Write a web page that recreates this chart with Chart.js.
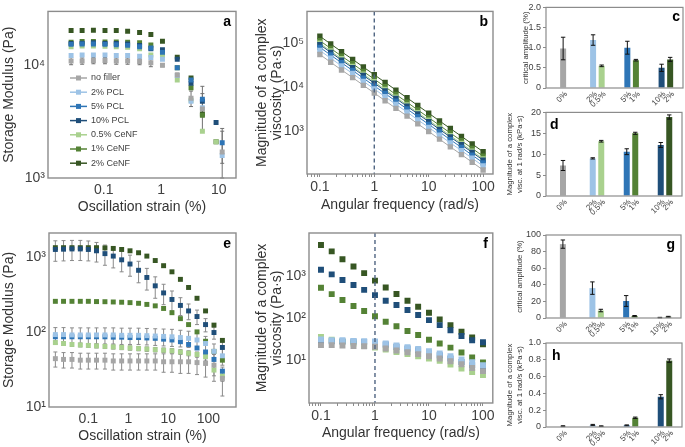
<!DOCTYPE html>
<html>
<head>
<meta charset="utf-8">
<script src="https://cdn.jsdelivr.net/npm/chart.js@4.4.1/dist/chart.umd.min.js"></script>
<style>
  body { margin: 0; background: #fff; width: 685px; height: 447px; position: relative; overflow: hidden; }
  canvas { position: absolute; }
</style>
</head>
<body>
<canvas id="ca" width="240" height="220" style="left:0;top:0"></canvas>
<canvas id="cb" width="252" height="220" style="left:245px;top:0"></canvas>
<canvas id="cc" width="185" height="110" style="left:500px;top:0"></canvas>
<canvas id="cd" width="185" height="115" style="left:500px;top:105px"></canvas>
<canvas id="ce" width="240" height="227" style="left:0;top:220px"></canvas>
<canvas id="cf" width="252" height="227" style="left:245px;top:220px"></canvas>
<canvas id="cg" width="185" height="112" style="left:500px;top:225px"></canvas>
<canvas id="ch" width="185" height="112" style="left:500px;top:335px"></canvas>
<script>
const seriesNames = ['no filler', '2% PCL', '5% PCL', '10% PCL', '0.5% CeNF', '1% CeNF', '2% CeNF'];
const seriesColors = ['#a6a6a6', '#9dc3e6', '#2e75b6', '#1f4e79', '#a9d18e', '#548235', '#375623'];

// a - strain sweep (Pa), series in the order of seriesNames
const strainA = [0.027, 0.042, 0.066, 0.105, 0.165, 0.26, 0.42, 0.66, 1.05, 1.9, 3.3, 5.2, 9, 11.5];
const modulusA = [
  [10900, 10900, 11000, 11000, 10900, 10900, 10800, 10500, 10000, 8200, 5100, 4100, null, 1700],
  [12200, 12300, 12300, 12300, 12200, 12200, 12000, 11700, 11300, 8100, 4800, 4200, null, 1580],
  [15300, 15400, 15400, 15300, 15200, 15000, 14600, 14200, 13000, 9500, 7400, 5000, null, 2050],
  [15600, 15700, 15800, 15600, 15600, 15400, 15000, 14000, 13700, 11300, 6900, 4800, 3100, null],
  [14600, 14800, 14800, 14700, 14600, 14400, 14000, 12300, 12200, 7400, 4900, 2600, 2100, null],
  [16000, 16200, 16200, 16100, 16100, 16000, 15800, 15100, 12800, 9500, 6300, 3600, null, null],
  [20300, 20300, 20400, 20300, 20300, 20000, 19500, 18700, 16300, 11800, 7700, 3700, 2100, null]
];
const modulusAErr = [
  [800, 700, 700, 700, 700, 700, 700, 800, 300, 300, 800, 1500, null, 900],
  null,
  [null, null, null, null, null, null, null, null, null, null, 500, 1500, null, 700],
  null, null, null, null
];

// b - frequency sweep (Pa·s)
const freq = [0.1, 0.158, 0.25, 0.4, 0.63, 1, 1.58, 2.5, 4, 6.3, 10, 15.8, 25, 40, 63, 100];
const viscB = [
  [54100, 36200, 24200, 16300, 10900, 7300, 4890, 3280, 2200, 1470, 986, 661, 442, 296, 199, 133],
  [66700, 44600, 29900, 20100, 13400, 9000, 6030, 4040, 2710, 1810, 1220, 815, 545, 365, 245, 164],
  [78500, 52600, 35200, 23600, 15800, 10600, 7100, 4760, 3190, 2140, 1430, 959, 642, 430, 288, 193],
  [90400, 60500, 40500, 27200, 18200, 12200, 8170, 5480, 3670, 2460, 1650, 1100, 739, 495, 332, 222],
  [97100, 65000, 43500, 29200, 19500, 13100, 8780, 5880, 3940, 2640, 1770, 1190, 794, 532, 356, 238],
  [111000, 74400, 49800, 33500, 22400, 15000, 10100, 6740, 4520, 3020, 2030, 1360, 909, 609, 408, 273],
  [140000, 93700, 62700, 42100, 28200, 18900, 12700, 8490, 5690, 3810, 2550, 1710, 1150, 767, 514, 344]
];

// e - strain sweep, second sample (Pa)
const strainE = [0.015, 0.024, 0.039, 0.063, 0.1, 0.16, 0.26, 0.42, 0.68, 1.1, 1.8, 2.9, 4.7, 7.6, 12.3, 20, 32, 52, 85, 138, 224];
const modulusE = [
  [44, 43, 43, 42, 42, 42, 42, 41, 41, 41, 41, 41, 41, 40, 40, 40, 40, 39, 38, 36, 24],
  [92, 92, 91, 91, 91, 91, 91, 91, 90, 90, 90, 89, 88, 87, 86, 84, 82, 78, 70, 55, 48],
  [86, 86, 86, 86, 86, 86, 86, 85, 85, 84, 84, 83, 82, 80, 78, 74, 68, 61, 54, 43, 30],
  [1250, 1260, 1270, 1270, 1250, 1200, 1100, 1020, 910, 800, 660, 530, 410, 330, 270, 225, 190, 160, 125, 98, 62],
  [72, 70, 68, 67, 66, 65, 64, 63, 62, 61, 60, 59, 58, 57, 56, 54, 52, 50, 47, 31, 26],
  [255, 255, 255, 255, 255, 253, 252, 250, 248, 245, 240, 232, 222, 205, 180, 150, 125, 100, 75, 55, 42],
  [1320, 1320, 1320, 1320, 1320, 1320, 1310, 1290, 1250, 1200, 1130, 1020, 890, 760, 630, 500, 390, 280, 190, 123, 77]
];
const modulusEErr = [
  [10, 10, 10, 10, 10, 10, 10, 10, 10, 10, 10, 10, 10, 11, 11, 12, 12, 12, 13, 14, 10],
  [22, 22, 22, 22, 22, 22, 22, 22, 22, 22, 22, 22, 22, 22, 22, 21, 20, 19, 17, 14, 12],
  null,
  [380, 380, 380, 380, 370, 350, 330, 310, 280, 250, 210, 170, 130, 100, 80, 60, 45, 35, 25, 18, 12],
  [4, 4, 4, 4, 4, 4, 4, 4, 4, 4, 4, 4, 4, 4, 4, 4, 4, 4, 5, 5, 4],
  null, null
];

// f - frequency sweep, second sample (Pa·s)
const viscF = [
  [23, 23, 22.5, 22, 21.5, 21, 19, 17, 15.5, 14, 12.5, 11, 9.5, 8, 6.5, 5.5],
  [31.5, 30, 30, 29, 28.5, 28, 25, 22.5, 20.5, 18.5, 16.5, 14.5, 12.5, 10.5, 9, 7.6],
  [29, 28.5, 28, 28, 27.5, 27.5, 23.7, 21, 19, 17.4, 15, 13.2, 11, 9.1, 7.6, 6.1],
  [1450, 1130, 830, 630, 480, 360, 265, 210, 158, 120, 91, 69, 52, 38, 30, 27],
  [36, 31, 28, 25, 22, 20, 18, 15.8, 14, 12.4, 11, 9.7, 7.9, 6.3, 5.2, 4.4],
  [540, 380, 275, 197, 150, 113, 83, 65, 50, 40, 31, 25, 20, 15.3, 11.6, 8.8],
  [5700, 4000, 2600, 1740, 1210, 800, 550, 383, 265, 190, 137, 94, 69, 48, 35, 24]
];

// bar panels: group 0 = no filler, then PCL bar next to CeNF bar
const barGroups = ['0%', '2% / 0.5%', '5% / 1%', '10% / 2%'];
const pclLabels = ['0%', '2%', '5%', '10%'];
const cenfLabels = [null, '0.5%', '1%', '2%'];
const pclSeries = [0, 1, 2, 3];
const cenfSeries = [null, 4, 5, 6];

const critAmpC = [0.98, 1.19, 1.0, 0.5];
const critAmpCErr = [0.28, 0.13, 0.16, 0.09];
const critAmpCenfC = [null, 0.55, 0.69, 0.71];
const critAmpCenfCErr = [null, 0.02, 0.02, 0.05];

const viscD = [7.3, 9.0, 10.6, 12.2];
const viscDErr = [1.2, 0.15, 0.7, 0.6];
const viscCenfD = [null, 13.1, 15.0, 18.9];
const viscCenfDErr = [null, 0.2, 0.25, 0.5];

const critAmpG = [89, 36, 20.5, 0.5];
const critAmpGErr = [5, 7.5, 6.5, 0.3];
const critAmpCenfG = [null, 9, 2.5, 1.5];
const critAmpCenfGErr = [null, 1.5, 0.5, 0.5];

const viscH = [0.01, 0.025, 0.02, 0.36];
const viscHErr = [0.005, 0.006, 0.005, 0.025];
const viscCenfH = [null, 0.01, 0.11, 0.79];
const viscCenfHErr = [null, 0.004, 0.008, 0.02];

const FONT = '"Liberation Sans", Arial, sans-serif';
const TEXT = '#404040';
const sup = ['\u2070', '\u00b9', '\u00b2', '\u00b3', '\u2074', '\u2075'];

// ---------- small plugins ----------
Chart.register({
  id: 'frame',
  afterDraw(chart, args, o) {
    const { ctx, chartArea: a } = chart;
    ctx.save();
    ctx.strokeStyle = '#8c8c8c';
    ctx.lineWidth = o.width || 1.4;
    ctx.strokeRect(a.left, a.top, a.right - a.left, a.bottom - a.top);
    if (o.letter) {
      ctx.font = 'bold ' + (o.size || 14) + 'px ' + FONT;
      ctx.fillStyle = '#000';
      ctx.textBaseline = 'alphabetic';
      ctx.textAlign = o.side === 'left' ? 'left' : 'right';
      const x = o.side === 'left' ? a.left + (o.inset || 5) : a.right - (o.inset || 5);
      ctx.fillText(o.letter, x, a.top + (o.drop || 15));
    }
    ctx.restore();
  }
});

function drawErrors(chart, o) {
  const { ctx } = chart;
  const ys = chart.scales.y;
  ctx.save();
  ctx.strokeStyle = o.color || '#222';
  ctx.lineWidth = o.width || 1;
  chart.data.datasets.forEach((ds, i) => {
    if (!ds.errors) return;
    chart.getDatasetMeta(i).data.forEach((el, j) => {
      const raw = ds.data[j];
      const v = raw !== null && typeof raw === 'object' ? raw.y : raw;
      const e = ds.errors[j];
      if (v == null || e == null) return;
      const lo = Math.max(v - e, ys.min);
      const y1 = ys.getPixelForValue(v + e), y2 = ys.getPixelForValue(lo);
      const c = o.cap || 2;
      ctx.beginPath();
      ctx.moveTo(el.x, y1); ctx.lineTo(el.x, y2);
      ctx.moveTo(el.x - c, y1); ctx.lineTo(el.x + c, y1);
      ctx.moveTo(el.x - c, y2); ctx.lineTo(el.x + c, y2);
      ctx.stroke();
    });
  });
  ctx.restore();
}

Chart.register({
  id: 'errorBars',
  beforeDatasetsDraw(chart, args, o) { if (o.show && o.under) drawErrors(chart, o); },
  afterDatasetsDraw(chart, args, o) { if (o.show && !o.under) drawErrors(chart, o); }
});

Chart.register({
  id: 'barLabels',
  afterDraw(chart, args, o) {
    if (!o.show) return;
    const { ctx, chartArea } = chart;
    ctx.save();
    ctx.font = '8px ' + FONT;
    ctx.fillStyle = TEXT;
    ctx.textAlign = 'right';
    ctx.textBaseline = 'middle';
    chart.data.datasets.forEach((ds, i) => {
      chart.getDatasetMeta(i).data.forEach((el, j) => {
        const t = ds.tickLabels[j];
        if (!t || ds.data[j] == null) return;
        ctx.save();
        ctx.translate(el.x + 3, chartArea.bottom + 5);
        ctx.rotate(-Math.PI / 4);
        ctx.fillText(t, 0, 0);
        ctx.restore();
      });
    });
    ctx.restore();
  }
});

Chart.register({
  id: 'inlineLegend',
  afterDraw(chart, args, o) {
    if (!o.show) return;
    const { ctx } = chart;
    ctx.save();
    ctx.font = '9px ' + FONT;
    ctx.textBaseline = 'middle';
    chart.data.datasets.forEach((ds, i) => {
      const y = o.y + i * o.gap;
      ctx.strokeStyle = ds.borderColor;
      ctx.lineWidth = 1.5;
      ctx.beginPath(); ctx.moveTo(o.x, y); ctx.lineTo(o.x + 17, y); ctx.stroke();
      ctx.fillStyle = ds.backgroundColor;
      ctx.fillRect(o.x + 6, y - 2.5, 5, 5);
      ctx.fillStyle = TEXT;
      ctx.fillText(ds.label, o.x + 21, y);
    });
    ctx.restore();
  }
});

Chart.register({
  id: 'vLine',
  afterDatasetsDraw(chart, args, o) {
    if (o.value == null) return;
    const { ctx, chartArea: a } = chart;
    const x = chart.scales.x.getPixelForValue(o.value);
    ctx.save();
    ctx.strokeStyle = '#4f6482';
    ctx.lineWidth = 1.4;
    ctx.setLineDash([4, 3]);
    ctx.beginPath(); ctx.moveTo(x, a.top); ctx.lineTo(x, a.bottom); ctx.stroke();
    ctx.restore();
  }
});

// ---------- helpers ----------
function logTicks(lo, hi, minor) {
  const out = [];
  for (let e = -3; e <= 6; e++) {
    for (let m = 1; m <= (minor ? 9 : 1); m++) {
      const v = m * Math.pow(10, e);
      if (v >= lo * 0.999 && v <= hi * 1.001) out.push({ value: v, major: m === 1 });
    }
  }
  return out;
}

function isDecade(v) {
  const l = Math.log10(v);
  return Math.abs(l - Math.round(l)) < 1e-6;
}

function logX(min, max, title, h, tickPad, titlePad, minor) {
  return {
    type: 'logarithmic', min, max,
    afterBuildTicks: s => { s.ticks = logTicks(min, max, minor); },
    afterFit: s => { s.height = h; },
    border: { display: false },
    grid: minor ? { drawOnChartArea: false, drawTicks: true, tickLength: 3, color: '#8c8c8c' } : { display: false, drawTicks: false },
    ticks: {
      autoSkip: false, maxRotation: 0, padding: tickPad, color: TEXT,
      font: { family: FONT, size: 14 },
      callback: v => isDecade(v) ? String(v) : ''
    },
    title: { display: true, text: title, color: '#333', font: { family: FONT, size: 14 }, padding: { top: 0, bottom: titlePad } }
  };
}

function logY(min, max, title, w, titlePad, labelMin, labelMax) {
  return {
    type: 'logarithmic', min, max,
    afterBuildTicks: s => { s.ticks = logTicks(labelMin || min, labelMax || max, false); },
    afterFit: s => { s.width = w; },
    border: { display: false },
    grid: { display: false, drawTicks: false },
    ticks: {
      padding: 3, color: TEXT,
      font: { family: FONT, size: 14 },
      callback: v => '10' + sup[Math.round(Math.log10(v))]
    },
    title: {
      display: true, text: title, color: '#333',
      font: { family: FONT, size: 14, lineHeight: 1.05 },
      padding: { top: titlePad, bottom: 0 }
    }
  };
}

function pointSets(xs, rows, errs, r, line) {
  return seriesNames.map((name, i) => ({
    label: name,
    data: xs.map((x, k) => ({ x, y: rows[i][k] })),
    errors: errs ? errs[i] : null,
    backgroundColor: seriesColors[i],
    borderColor: seriesColors[i],
    borderWidth: 1,
    showLine: !!line,
    pointStyle: 'rect',
    pointRadius: r,
    pointBorderWidth: 0
  }));
}

const base = { responsive: false, animation: false, events: [] };

// ---------- a ----------
new Chart(document.getElementById('ca'), {
  type: 'scatter',
  data: { datasets: pointSets(strainA, modulusA, modulusAErr, 3.5) },
  options: {
    ...base,
    layout: { padding: { top: 5, right: 4, left: 0, bottom: 0 } },
    plugins: {
      legend: { display: false }, tooltip: { enabled: false },
      frame: { letter: 'a' },
      errorBars: { show: true, under: true, color: '#707070' },
      inlineLegend: { show: true, x: 70, y: 78, gap: 14.2 }
    },
    scales: {
      x: logX(0.0107, 20, 'Oscillation strain (%)', 42, 4, 4, false),
      y: logY(1000, 30000, 'Storage Modulus (Pa)', 48, 2)
    }
  }
});

// ---------- b ----------
new Chart(document.getElementById('cb'), {
  type: 'scatter',
  data: { datasets: pointSets(freq, viscB, null, 3.8, true) },
  options: {
    ...base,
    layout: { padding: { top: 4, right: 3, left: 0, bottom: 0 } },
    plugins: {
      legend: { display: false }, tooltip: { enabled: false },
      frame: { letter: 'b' },
      vLine: { value: 1 }
    },
    scales: {
      x: logX(0.058, 152, 'Angular frequency (rad/s)', 46, 2, 6, true),
      y: logY(108, 510000, ['Magnitude of a complex', 'viscosity (Pa\u00b7s)'], 62, 10)
    }
  }
});

// ---------- e ----------
new Chart(document.getElementById('ce'), {
  type: 'scatter',
  data: { datasets: pointSets(strainE, modulusE, modulusEErr, 3.5) },
  options: {
    ...base,
    layout: { padding: { top: 13, right: 4, left: 0, bottom: 0 } },
    plugins: {
      legend: { display: false }, tooltip: { enabled: false },
      frame: { letter: 'e' },
      errorBars: { show: true, under: true, color: '#8a8a8a' }
    },
    scales: {
      x: logX(0.0104, 490, 'Oscillation strain (%)', 40, 4, 2, false),
      y: logY(10, 2070, 'Storage Modulus (Pa)', 49, 2)
    }
  }
});

// ---------- f ----------
new Chart(document.getElementById('cf'), {
  type: 'scatter',
  data: { datasets: pointSets(freq, viscF, null, 4.2) },
  options: {
    ...base,
    layout: { padding: { top: 13, right: 3, left: 0, bottom: 0 } },
    plugins: {
      legend: { display: false }, tooltip: { enabled: false },
      frame: { letter: 'f' },
      vLine: { value: 1 }
    },
    scales: {
      x: logX(0.06, 152, 'Angular frequency (rad/s)', 44, 2, 5, true),
      y: logY(0.95, 11000, ['Magnitude of a complex', 'viscosity (Pa\u00b7s)'], 64, 10, 10, 1000)
    }
  }
});

// ---------- bar panels ----------
function barChart(id, pcl, pclErr, cenf, cenfErr, yMax, step, title, lay) {
  return new Chart(document.getElementById(id), {
    type: 'bar',
    data: {
      labels: barGroups,
      datasets: [
        {
          data: pcl, errors: pclErr, tickLabels: pclLabels,
          backgroundColor: pclSeries.map(i => seriesColors[i]),
          skipNull: true, categoryPercentage: 0.5, barPercentage: 1, maxBarThickness: 6
        },
        {
          data: cenf, errors: cenfErr, tickLabels: cenfLabels,
          backgroundColor: cenfSeries.map(i => i == null ? 'rgba(0,0,0,0)' : seriesColors[i]),
          skipNull: true, categoryPercentage: 0.5, barPercentage: 1, maxBarThickness: 6
        }
      ]
    },
    options: {
      ...base,
      layout: { padding: { top: lay.top, right: lay.right, left: 0, bottom: 0 } },
      plugins: {
        legend: { display: false }, tooltip: { enabled: false },
        frame: { letter: lay.letter, side: lay.side, inset: lay.inset, size: 14, drop: lay.drop || 14, width: 1.2 },
        errorBars: { show: true, color: '#111', cap: 2.2, width: 1 },
        barLabels: { show: true }
      },
      scales: {
        x: {
          afterFit: s => { s.height = lay.xh; },
          border: { display: false },
          grid: { display: false, drawTicks: false },
          ticks: { display: false }
        },
        y: {
          min: 0, max: yMax,
          afterFit: s => { s.width = 46; },
          border: { display: false },
          grid: { drawOnChartArea: false, drawTicks: true, tickLength: 3, color: '#8c8c8c' },
          ticks: { stepSize: step, padding: 2, color: TEXT, font: { family: FONT, size: 9 } },
          title: {
            display: true, text: title, color: '#333',
            font: { family: FONT, size: 7.8, lineHeight: 1.25 },
            padding: { top: lay.tp, bottom: 0 }
          }
        }
      }
    }
  });
}

barChart('cc', critAmpC, critAmpCErr, critAmpCenfC, critAmpCenfCErr, 2, 0.5,
  'critical amplitude (%)', { top: 5, right: 2, xh: 22, tp: 21, letter: 'c', side: 'right', inset: 3 });
barChart('cd', viscD, viscDErr, viscCenfD, viscCenfDErr, 20, 5,
  ['Magnitude of a complex', 'visc. at 1 rad/s (kPa\u00b7s)'], { top: 5, right: 3, xh: 24, tp: 5, letter: 'd', side: 'left', inset: 4, drop: 17 });
barChart('cg', critAmpG, critAmpGErr, critAmpCenfG, critAmpCenfGErr, 100, 20,
  'critical amplitude (%)', { top: 10, right: 4, xh: 19, tp: 15, letter: 'g', side: 'right', inset: 6 });
barChart('ch', viscH, viscHErr, viscCenfH, viscCenfHErr, 1, 0.2,
  ['Magnitude of a complex', 'visc. at 1 rad/s (kPa\u00b7s)'], { top: 8, right: 3, xh: 20, tp: 5, letter: 'h', side: 'left', inset: 6, drop: 17 });
</script>
</body>
</html>
